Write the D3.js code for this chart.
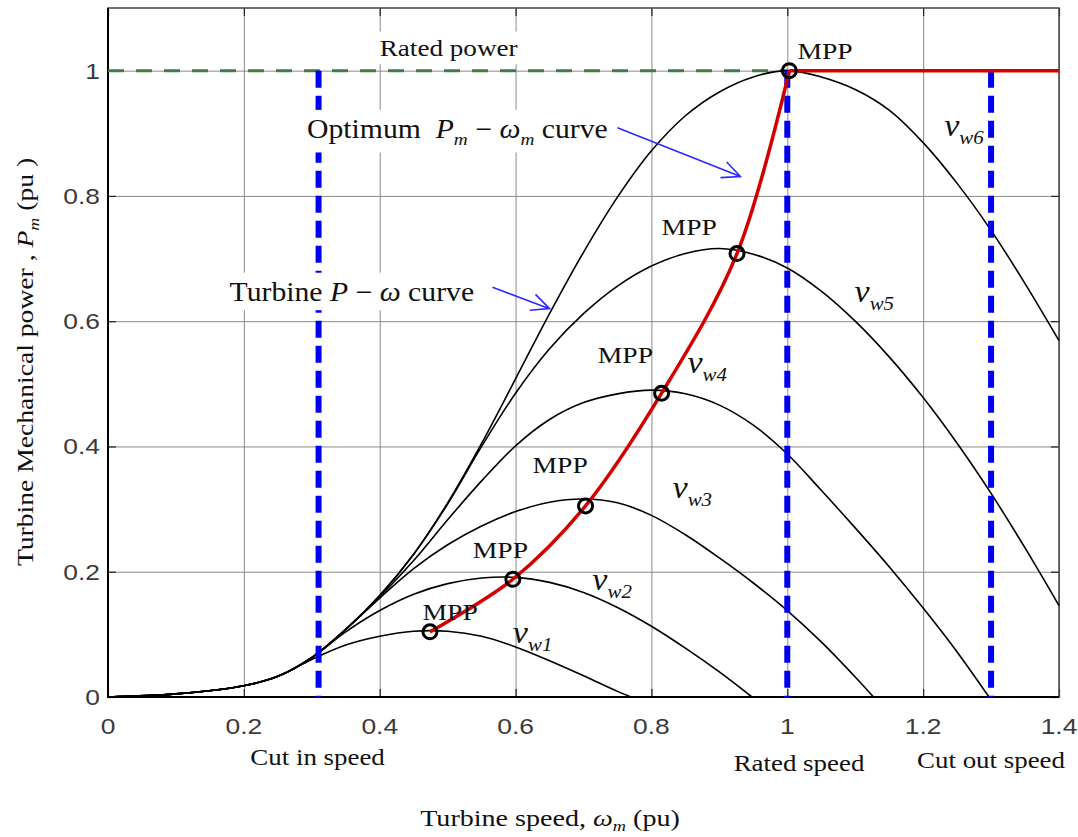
<!DOCTYPE html>
<html>
<head>
<meta charset="utf-8">
<script src="https://cdn.jsdelivr.net/npm/d3@7"></script>
<style>
  html, body { margin: 0; padding: 0; background: #fff; }
  svg { display: block; }
</style>
</head>
<body>
<div id="chart"></div>
<script>
// values (speed and power in pu)
const xTicks = [0, 0.2, 0.4, 0.6, 0.8, 1, 1.2, 1.4];
const yTicks = [0, 0.2, 0.4, 0.6, 0.8, 1];

// turbine P-w curves, one per wind speed: [speed, power]
const curveVw1 = [[0, 0], [0.1, 0.005], [0.2, 0.018], [0.25, 0.033], [0.3, 0.06], [0.35, 0.083], [0.4, 0.097],
  [0.45, 0.105], [0.5, 0.105], [0.55, 0.097], [0.6, 0.08], [0.65, 0.058], [0.7, 0.034], [0.75, 0.009], [0.77, 0]];
const curveVw2 = [[0, 0], [0.1, 0.005], [0.2, 0.018], [0.25, 0.033], [0.3, 0.063], [0.35, 0.104], [0.4, 0.138],
  [0.45, 0.164], [0.5, 0.181], [0.55, 0.19], [0.6, 0.191], [0.65, 0.183], [0.7, 0.167], [0.75, 0.143],
  [0.8, 0.113], [0.85, 0.078], [0.9, 0.04], [0.948, 0]];
const curveVw3 = [[0, 0], [0.1, 0.005], [0.2, 0.018], [0.25, 0.033], [0.3, 0.063], [0.35, 0.108], [0.4, 0.158],
  [0.45, 0.205], [0.5, 0.243], [0.55, 0.273], [0.6, 0.296], [0.65, 0.311], [0.7, 0.316], [0.75, 0.31],
  [0.8, 0.29], [0.85, 0.259], [0.9, 0.222], [0.95, 0.182], [1.0, 0.138], [1.05, 0.088], [1.1, 0.032], [1.127, 0]];
const curveVw4 = [[0, 0], [0.1, 0.005], [0.2, 0.018], [0.25, 0.033], [0.3, 0.063], [0.35, 0.108], [0.4, 0.16],
  [0.45, 0.218], [0.5, 0.283], [0.55, 0.345], [0.6, 0.401], [0.65, 0.443], [0.7, 0.47], [0.75, 0.484],
  [0.8, 0.49], [0.85, 0.484], [0.9, 0.466], [0.95, 0.434], [1.0, 0.388], [1.05, 0.33], [1.1, 0.27],
  [1.15, 0.208], [1.2, 0.142], [1.25, 0.072], [1.297, 0]];
const curveVw5 = [[0, 0], [0.1, 0.005], [0.2, 0.018], [0.25, 0.033], [0.3, 0.063], [0.35, 0.108], [0.4, 0.162],
  [0.45, 0.228], [0.5, 0.308], [0.55, 0.4], [0.6, 0.485], [0.65, 0.556], [0.7, 0.612], [0.75, 0.656],
  [0.8, 0.688], [0.85, 0.708], [0.9, 0.716], [0.95, 0.707], [1.0, 0.685], [1.05, 0.648], [1.1, 0.6],
  [1.15, 0.543], [1.2, 0.478], [1.25, 0.405], [1.3, 0.325], [1.35, 0.238], [1.4, 0.146]];
const curveVw6 = [[0, 0], [0.1, 0.005], [0.2, 0.018], [0.25, 0.033], [0.3, 0.063], [0.35, 0.108], [0.4, 0.162],
  [0.45, 0.228], [0.5, 0.31], [0.55, 0.405], [0.6, 0.508], [0.65, 0.612], [0.7, 0.71], [0.75, 0.798],
  [0.8, 0.872], [0.85, 0.928], [0.9, 0.966], [0.95, 0.99], [1.0, 1.0], [1.05, 0.99], [1.1, 0.97],
  [1.15, 0.937], [1.2, 0.885], [1.25, 0.82], [1.3, 0.745], [1.35, 0.66], [1.4, 0.569]];
const windCurves = [curveVw1, curveVw2, curveVw3, curveVw4, curveVw5, curveVw6];
const windNames = ["w1", "w2", "w3", "w4", "w5", "w6"];

// maximum power points (optimum curve)
const mppSpeed = [0.474, 0.596, 0.703, 0.815, 0.926, 1.003];
const mppPower = [0.104, 0.188, 0.305, 0.485, 0.708, 1.0];

const ratedPower = 1;
const cutInSpeed = 0.31;
const ratedSpeed = 1.0;
const cutOutSpeed = 1.3;

// ---- layout ----
const W = 1078, H = 837;
const serif = "'Liberation Serif', 'Times New Roman', serif";
const sans = "'Liberation Sans', Arial, sans-serif";

const x = d3.scaleLinear().domain([0, 1.4]).range([108, 1059]);
const y = d3.scaleLinear().domain([0, 1.1]).range([697, 8]);

const svg = d3.select("#chart").append("svg")
  .attr("width", W).attr("height", H)
  .style("background", "#fff");

// text helper: parts = [{t, i (italic), sub}], sx = horizontal stretch, bg = white box behind
function addText(px, py, parts, opt) {
  const tr = `translate(${px},${py})` + (opt.rotate ? " rotate(-90)" : "") + ` scale(${opt.sx || 1},1)`;
  const g = svg.append("g").attr("transform", tr);
  const t = g.append("text")
    .attr("font-family", opt.family || serif)
    .attr("font-size", opt.size)
    .attr("text-anchor", opt.anchor || "start")
    .attr("fill", opt.fill || "#111")
    .style("white-space", "pre");
  let shift = 0;
  parts.forEach(p => {
    const target = p.sub ? (opt.subDy || 7) : 0;
    const ts = t.append("tspan").text(p.t).attr("dy", target - shift);
    shift = target;
    if (p.i) ts.attr("font-style", "italic");
    if (p.sub) ts.attr("font-size", opt.subSize || opt.size * 0.65);
  });
  if (opt.bg) {
    const b = t.node().getBBox();
    g.insert("rect", "text")
      .attr("x", b.x - 3).attr("y", b.y - 4)
      .attr("width", b.width + 6).attr("height", b.height + 8)
      .attr("fill", "#fff");
  }
  return g;
}

// grid
const plotH = y(0) - y(1.1), plotW = x(1.4) - x(0);
svg.append("g")
  .attr("transform", `translate(0,${y(0)})`)
  .call(d3.axisBottom(x).tickValues(xTicks).tickSize(-plotH).tickFormat(""))
  .call(g => g.select(".domain").remove())
  .call(g => g.selectAll("line").attr("stroke", "#8a8a8a").attr("stroke-width", 1));
svg.append("g")
  .attr("transform", `translate(${x(0)},0)`)
  .call(d3.axisLeft(y).tickValues(yTicks).tickSize(-plotW).tickFormat(""))
  .call(g => g.select(".domain").remove())
  .call(g => g.selectAll("line").attr("stroke", "#8a8a8a").attr("stroke-width", 1));

// inward ticks on all four sides
const tickStyle = g => {
  g.select(".domain").remove();
  g.selectAll("line").attr("stroke", "#222").attr("stroke-width", 1.2);
};
svg.append("g").attr("transform", `translate(0,${y(0)})`)
  .call(d3.axisBottom(x).tickValues(xTicks).tickSize(-8).tickFormat("")).call(tickStyle);
svg.append("g").attr("transform", `translate(0,${y(1.1)})`)
  .call(d3.axisTop(x).tickValues(xTicks).tickSize(-8).tickFormat("")).call(tickStyle);
svg.append("g").attr("transform", `translate(${x(0)},0)`)
  .call(d3.axisLeft(y).tickValues(yTicks).tickSize(-8).tickFormat("")).call(tickStyle);
svg.append("g").attr("transform", `translate(${x(1.4)},0)`)
  .call(d3.axisRight(y).tickValues(yTicks).tickSize(-8).tickFormat("")).call(tickStyle);

// frame
svg.append("rect")
  .attr("x", x(0)).attr("y", y(1.1))
  .attr("width", plotW).attr("height", plotH)
  .attr("fill", "none").attr("stroke", "#444").attr("stroke-width", 1.5);
svg.append("path")
  .attr("d", `M${x(0)},${y(1.1)}V${y(0)}H${x(1.4)}`)
  .attr("fill", "none").attr("stroke", "#000").attr("stroke-width", 2);

// tick labels
xTicks.forEach(v => addText(x(v), 734, [{ t: d3.format("~g")(v) }],
  { family: sans, size: 22, sx: 1.2, anchor: "middle", fill: "#3a3a3a" }));
yTicks.forEach(v => addText(x(0) - 8, y(v) + 8, [{ t: d3.format("~g")(v) }],
  { family: sans, size: 22, sx: 1.2, anchor: "end", fill: "#3a3a3a" }));

// rated power (green dashed)
svg.append("line")
  .attr("x1", x(0)).attr("x2", x(ratedSpeed))
  .attr("y1", y(ratedPower)).attr("y2", y(ratedPower))
  .attr("stroke", "#447a44").attr("stroke-width", 3)
  .attr("stroke-dasharray", "16,12");

// turbine curves
const line = d3.line().x(d => x(d[0])).y(d => y(d[1])).curve(d3.curveCatmullRom.alpha(0.5));
svg.append("g").selectAll("path")
  .data(windCurves)
  .join("path")
  .attr("d", line)
  .attr("fill", "none")
  .attr("stroke", "#000")
  .attr("stroke-width", 1.6);

// cut in / rated / cut out speeds (blue dashed)
svg.append("g").selectAll("line")
  .data([cutInSpeed, ratedSpeed, cutOutSpeed])
  .join("line")
  .attr("x1", d => x(d)).attr("x2", d => x(d))
  .attr("y1", y(ratedPower)).attr("y2", y(0))
  .attr("stroke", "#0000ee").attr("stroke-width", 6)
  .attr("stroke-dasharray", "17,8");

// optimum Pm-wm curve (red) and rated power above rated speed
const mpp = mppSpeed.map((s, i) => [s, mppPower[i]]);
svg.append("path")
  .datum(mpp)
  .attr("d", line)
  .attr("fill", "none").attr("stroke", "#d40000").attr("stroke-width", 3.5);
svg.append("line")
  .attr("x1", x(mppSpeed[5])).attr("x2", x(1.4))
  .attr("y1", y(ratedPower)).attr("y2", y(ratedPower))
  .attr("stroke", "#d40000").attr("stroke-width", 3.5);

svg.append("g").selectAll("circle")
  .data(mpp)
  .join("circle")
  .attr("cx", d => x(d[0])).attr("cy", d => y(d[1]))
  .attr("r", 7)
  .attr("fill", "none").attr("stroke", "#000").attr("stroke-width", 3);

// MPP labels
[[0.463, 0.123], [0.537, 0.222], [0.625, 0.357], [0.721, 0.533], [0.815, 0.737], [1.015, 1.019]]
  .forEach(p => addText(x(p[0]), y(p[1]), [{ t: "MPP" }], { size: 24, sx: 1.15 }));

// wind speed labels v_w1..v_w6
[[0.596, 0.086], [0.713, 0.171], [0.831, 0.317], [0.853, 0.518], [1.099, 0.63], [1.231, 0.896]]
  .forEach((p, i) => addText(x(p[0]), y(p[1]),
    [{ t: "v", i: true }, { t: windNames[i], i: true, sub: true }],
    { size: 31, sx: 1.1, subSize: 19, subDy: 8 }));

// annotations
addText(x(0.4), y(1.024), [{ t: "Rated power" }], { size: 23, sx: 1.18, bg: true });
addText(x(0.293), y(0.893),
  [{ t: "Optimum  " }, { t: "P", i: true }, { t: "m", i: true, sub: true }, { t: " − " },
   { t: "ω", i: true }, { t: "m", i: true, sub: true }, { t: " curve" }],
  { size: 27, sx: 1.1, subDy: 7, bg: true });
addText(x(0.179), y(0.633),
  [{ t: "Turbine " }, { t: "P", i: true }, { t: " − " }, { t: "ω", i: true }, { t: " curve" }],
  { size: 27, sx: 1.1, bg: true });

// blue arrows
function arrow(from, to) {
  const x0 = x(from[0]), y0 = y(from[1]), x1 = x(to[0]), y1 = y(to[1]);
  const a = Math.atan2(y1 - y0, x1 - x0), L = 20, th = 25 * Math.PI / 180;
  const p1 = [x1 - L * Math.cos(a + th), y1 - L * Math.sin(a + th)];
  const p2 = [x1 - L * Math.cos(a - th), y1 - L * Math.sin(a - th)];
  svg.append("path")
    .attr("d", `M${x0},${y0}L${x1},${y1}M${p1[0]},${p1[1]}L${x1},${y1}L${p2[0]},${p2[1]}`)
    .attr("fill", "none").attr("stroke", "#2a2aff").attr("stroke-width", 1.6);
}
arrow([0.75, 0.909], [0.931, 0.831]);
arrow([0.566, 0.654], [0.65, 0.62]);

// speed labels under the axis
addText(x(cutInSpeed) - 1, 765, [{ t: "Cut in speed" }], { size: 23, sx: 1.17, anchor: "middle" });
addText(799, 771, [{ t: "Rated speed" }], { size: 23, sx: 1.17, anchor: "middle" });
addText(991, 768, [{ t: "Cut out speed" }], { size: 23, sx: 1.17, anchor: "middle" });

// axis titles
addText(550, 826,
  [{ t: "Turbine speed, " }, { t: "ω", i: true }, { t: "m", i: true, sub: true }, { t: " (pu)" }],
  { size: 24, sx: 1.17, anchor: "middle", subDy: 5 });
addText(33, 362,
  [{ t: "Turbine Mechanical power , " }, { t: "P", i: true }, { t: "m", i: true, sub: true }, { t: " (pu )" }],
  { size: 24, sx: 1.15, anchor: "middle", rotate: true, subDy: 6 });
</script>
</body>
</html>
